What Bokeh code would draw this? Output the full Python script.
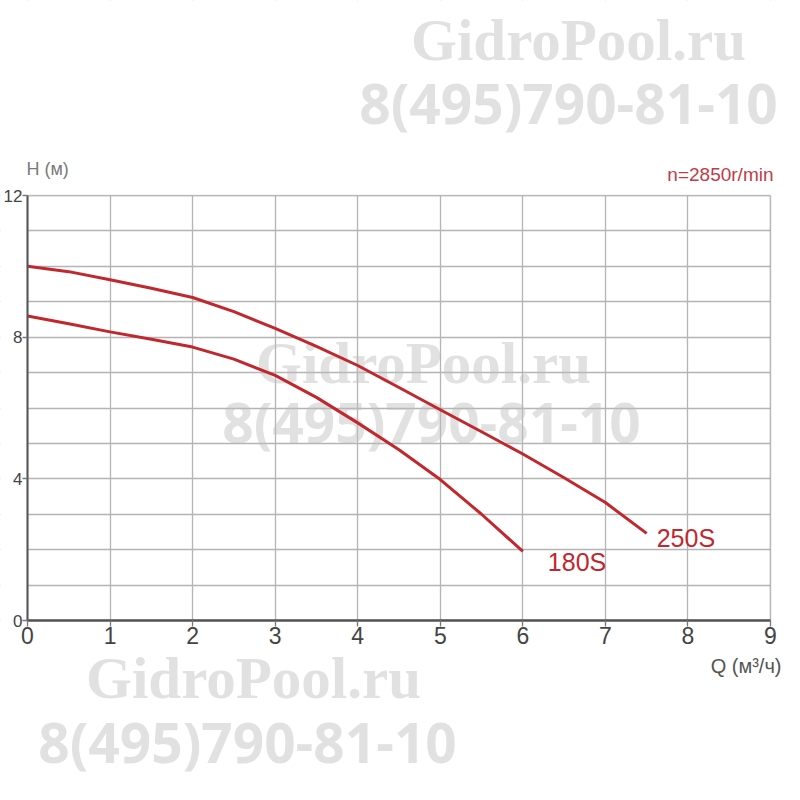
from bokeh.plotting import figure
from bokeh.models import (Label, FixedTicker, Range1d, LinearAxis, Grid, BoxAnnotation)
from bokeh.embed import file_html
from bokeh.resources import INLINE

# ---------------- data ----------------
q_250 = [0, 0.5, 1.0, 1.5, 2.0, 2.5, 3.0, 3.5, 4.0, 4.5, 5.0, 5.5, 6.0, 6.5, 7.0, 7.5]
h_250 = [10.0, 9.85, 9.62, 9.38, 9.12, 8.72, 8.25, 7.74, 7.2, 6.58, 5.95, 5.33, 4.7, 4.03, 3.33, 2.46]

q_180 = [0, 0.5, 1.0, 1.5, 2.0, 2.5, 3.0, 3.5, 4.0, 4.5, 5.0, 5.5, 6.0]
h_180 = [8.6, 8.38, 8.15, 7.94, 7.72, 7.38, 6.92, 6.3, 5.58, 4.82, 3.98, 3.0, 1.95]

series_names = ["250S", "180S"]
x_ticks = [0, 1, 2, 3, 4, 5, 6, 7, 8, 9]
y_grid_ticks = [0, 1, 2, 3, 4, 5, 6, 7, 8, 9, 10, 11, 12]
y_label_ticks = [0, 4, 8, 12]
x_bounds = (0, 9)
y_bounds = (0, 12)

speed_text = "n=2850r/min"
y_title = "H (м)"
x_title = "Q (м³/ч)"
wm_site = "GidroPool.ru"
wm_phone = "8(495)790-81-10"

# ---------------- layout (pixels) ----------------
W = H = 784
FX0, FX1, FY_TOP, FY_BOT = 27, 770, 195, 620      # where the chart box sits
sx = (x_bounds[1] - x_bounds[0]) / (FX1 - FX0)
sy = (y_bounds[1] - y_bounds[0]) / (FY_BOT - FY_TOP)
x_range = Range1d(x_bounds[0] - FX0 * sx, x_bounds[1] + (W - FX1) * sx)
y_range = Range1d(y_bounds[0] - (H - FY_BOT) * sy, y_bounds[1] + FY_TOP * sy)

def dx(px):
    return x_bounds[0] + (px - FX0) * sx

def dy(py):
    return y_bounds[0] + (FY_BOT - py) * sy

FONT = "Liberation Sans"
RED = "#c1272d"

p = figure(width=W, height=H, x_range=x_range, y_range=y_range,
           x_axis_type=None, y_axis_type=None,
           output_backend="svg", toolbar_location=None,
           min_border=0, background_fill_color="white", border_fill_color="white",
           outline_line_color=None)

# grid
p.add_layout(Grid(dimension=0, ticker=FixedTicker(ticks=x_ticks),
                  grid_line_color="#b4b4b4", grid_line_width=1.3))
p.add_layout(Grid(dimension=1, ticker=FixedTicker(ticks=y_grid_ticks),
                  grid_line_color="#b4b4b4", grid_line_width=1.3))

# white margins around the chart box
mask = dict(fill_color="white", fill_alpha=1, line_color=None, level="underlay")
p.add_layout(BoxAnnotation(right=x_bounds[0], **mask))
p.add_layout(BoxAnnotation(left=x_bounds[1], **mask))
p.add_layout(BoxAnnotation(bottom=y_bounds[1], **mask))
p.add_layout(BoxAnnotation(top=y_bounds[0], **mask))

# chart box
p.add_layout(BoxAnnotation(left=x_bounds[0], right=x_bounds[1], bottom=y_bounds[0], top=y_bounds[1],
                           fill_color=None, fill_alpha=0, line_color="#6a6a6a", line_width=1.6,
                           level="underlay"))

# watermarks
wm_common = dict(text_align="center", text_baseline="middle", text_color="#bdbdbd",
                 text_alpha=0.45, level="underlay")
for (a, b, c, d) in [(578, 39, 568, 102), (423, 362, 431, 421), (253, 677, 247, 741)]:
    p.add_layout(Label(x=dx(a), y=dy(b), text=wm_site, text_font="Liberation Serif",
                       text_font_style="bold", text_font_size="59px", **wm_common))
    p.add_layout(Label(x=dx(c), y=dy(d), text=wm_phone, text_font="Open Sans",
                       text_font_style="bold", text_font_size="55px", **wm_common))

# axes
xaxis = LinearAxis(fixed_location=y_bounds[0], bounds=x_bounds, ticker=FixedTicker(ticks=x_ticks),
                   axis_line_color="#555555", axis_line_width=2.6,
                   major_tick_line_color="#777777", major_tick_line_width=1.3,
                   major_tick_in=0, major_tick_out=6, minor_tick_line_color=None,
                   major_label_text_font=FONT, major_label_text_font_size="23px",
                   major_label_text_color="#444444", major_label_standoff=0)
yaxis = LinearAxis(fixed_location=x_bounds[0], bounds=y_bounds, ticker=FixedTicker(ticks=y_label_ticks),
                   axis_line_color="#555555", axis_line_width=2,
                   major_tick_line_color="#777777", major_tick_line_width=1.3,
                   major_tick_in=0, major_tick_out=5, minor_tick_line_color=None,
                   major_label_text_font=FONT, major_label_text_font_size="17px",
                   major_label_text_color="#444444", major_label_standoff=0)
p.add_layout(xaxis, "below")
p.add_layout(yaxis, "left")

# curves
p.line(q_250, h_250, line_color=RED, line_width=3, line_join="round")
p.line(q_180, h_180, line_color=RED, line_width=3, line_join="round")

# curve labels attached to the curve end points
p.add_layout(Label(x=q_250[-1], y=h_250[-1], text=series_names[0], x_offset=10, y_offset=-5,
                   text_align="left", text_baseline="middle", text_font=FONT,
                   text_font_size="25px", text_color=RED))
p.add_layout(Label(x=q_180[-1], y=h_180[-1], text=series_names[1], x_offset=25, y_offset=-11,
                   text_align="left", text_baseline="middle", text_font=FONT,
                   text_font_size="25px", text_color=RED))

# texts around the chart box
p.add_layout(Label(x=dx(773), y=dy(174), text=speed_text, text_align="right", text_baseline="middle",
                   text_font=FONT, text_font_size="19px", text_color="#c23b45"))
p.add_layout(Label(x=dx(26), y=dy(168), text=y_title, text_align="left", text_baseline="middle",
                   text_font=FONT, text_font_size="18px", text_color="#7a7a7a"))
p.add_layout(Label(x=dx(781), y=dy(665), text=x_title, text_align="right", text_baseline="middle",
                   text_font=FONT, text_font_size="20px", text_color="#555555"))

open("out.html", "w").write(file_html(p, INLINE))
